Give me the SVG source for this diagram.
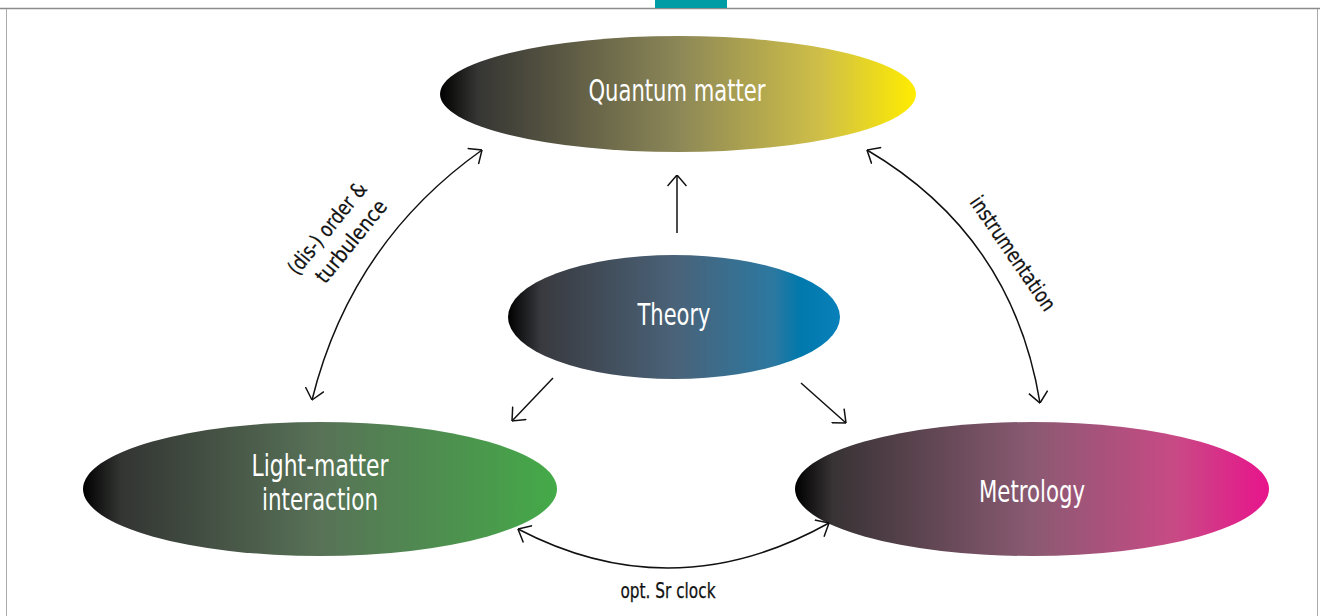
<svg xmlns="http://www.w3.org/2000/svg" width="1320" height="616" viewBox="0 0 1320 616">
  <style>
    .node-label { font-family: "DejaVu Sans Condensed", "DejaVu Sans", "Liberation Sans", sans-serif; fill: #ffffff; font-size: 30px; text-anchor: middle; }
    .edge-label { font-family: "DejaVu Sans Condensed", "DejaVu Sans", "Liberation Sans", sans-serif; fill: #111111; font-size: 21px; text-anchor: middle; stroke: #111111; stroke-width: 0.25; }
    .conn { fill: none; stroke: #111111; stroke-width: 1.5; }
  </style>
  <defs>
    <linearGradient id="gQuantum" x1="0" y1="0" x2="1" y2="0">
      <stop offset="0" stop-color="#000000"/>
      <stop offset="0.08" stop-color="#363634"/>
      <stop offset="0.5" stop-color="#8c8757"/>
      <stop offset="0.8" stop-color="#cfbf48"/>
      <stop offset="1" stop-color="#ffec00"/>
    </linearGradient>
    <linearGradient id="gTheory" x1="0" y1="0" x2="1" y2="0">
      <stop offset="0" stop-color="#000000"/>
      <stop offset="0.1" stop-color="#393a3f"/>
      <stop offset="0.5" stop-color="#4a6278"/>
      <stop offset="0.8" stop-color="#2c78a0"/>
      <stop offset="0.88" stop-color="#0079ac"/>
      <stop offset="1" stop-color="#0a80ba"/>
    </linearGradient>
    <linearGradient id="gLight" x1="0" y1="0" x2="1" y2="0">
      <stop offset="0" stop-color="#000000"/>
      <stop offset="0.08" stop-color="#333533"/>
      <stop offset="0.5" stop-color="#587257"/>
      <stop offset="1" stop-color="#44aa48"/>
    </linearGradient>
    <linearGradient id="gMetro" x1="0" y1="0" x2="1" y2="0">
      <stop offset="0" stop-color="#000000"/>
      <stop offset="0.08" stop-color="#383335"/>
      <stop offset="0.5" stop-color="#8a5a72"/>
      <stop offset="0.8" stop-color="#c84a85"/>
      <stop offset="1" stop-color="#e8148c"/>
    </linearGradient>
    <marker id="arrow" viewBox="0 0 12 20" refX="11.5" refY="10" markerWidth="12" markerHeight="20" markerUnits="userSpaceOnUse" orient="auto-start-reverse">
      <path d="M0.5,0.5 L11.5,10 L0.5,19.5" fill="none" stroke="#111111" stroke-width="1.5"/>
    </marker>
  </defs>

  <rect width="1320" height="616" fill="#ffffff"/>
  <!-- frame -->
  <line x1="0" y1="8.5" x2="1320" y2="8.5" stroke="#8c8c8c" stroke-width="1.5"/>
  <line x1="6.5" y1="9" x2="6.5" y2="616" stroke="#aaaaaa" stroke-width="1"/>
  <line x1="1317.5" y1="9" x2="1317.5" y2="616" stroke="#aaaaaa" stroke-width="1"/>
  <rect x="655" y="0" width="72" height="8" fill="#009ca5"/>

  <g id="quantum-matter">
    <ellipse cx="678" cy="94" rx="238" ry="58" fill="url(#gQuantum)"/>
    <text class="node-label" x="677" y="101" textLength="177" lengthAdjust="spacingAndGlyphs">Quantum matter</text>
  </g>

  <g id="theory">
    <ellipse cx="674" cy="317" rx="166" ry="62" fill="url(#gTheory)"/>
    <text class="node-label" x="674" y="325" textLength="73" lengthAdjust="spacingAndGlyphs">Theory</text>
  </g>

  <g id="light-matter">
    <ellipse cx="320" cy="489" rx="237" ry="67" fill="url(#gLight)"/>
    <text class="node-label" x="320" y="476" textLength="137" lengthAdjust="spacingAndGlyphs">Light-matter</text>
    <text class="node-label" x="320" y="510" textLength="116" lengthAdjust="spacingAndGlyphs">interaction</text>
  </g>

  <g id="metrology">
    <ellipse cx="1032" cy="489" rx="237" ry="67" fill="url(#gMetro)"/>
    <text class="node-label" x="1032" y="502" textLength="106" lengthAdjust="spacingAndGlyphs">Metrology</text>
  </g>

  <g id="connectors">
    <line class="conn" x1="677" y1="233" x2="677" y2="175" marker-end="url(#arrow)"/>
    <line class="conn" x1="553" y1="378" x2="512" y2="421" marker-end="url(#arrow)"/>
    <line class="conn" x1="801" y1="383" x2="846" y2="423" marker-end="url(#arrow)"/>
    <path class="conn" d="M482,150 Q351,243 312,400" marker-start="url(#arrow)" marker-end="url(#arrow)"/>
    <path class="conn" d="M867,150 Q1013,236 1040,403" marker-start="url(#arrow)" marker-end="url(#arrow)"/>
    <path class="conn" d="M518,529 Q673,610 829,523" marker-start="url(#arrow)" marker-end="url(#arrow)"/>
  </g>

  <g id="labels">
    <text class="edge-label" transform="translate(328,229) rotate(-51)" x="0" y="6" textLength="112" lengthAdjust="spacingAndGlyphs">(dis-) order &amp;</text>
    <text class="edge-label" transform="translate(352,242) rotate(-51)" x="0" y="6" textLength="100" lengthAdjust="spacingAndGlyphs">turbulence</text>
    <text class="edge-label" transform="translate(1012,254) rotate(55.5)" x="0" y="6" textLength="134" lengthAdjust="spacingAndGlyphs">instrumentation</text>
    <text class="edge-label" x="668" y="598" textLength="95" lengthAdjust="spacingAndGlyphs">opt. Sr clock</text>
  </g>
</svg>
